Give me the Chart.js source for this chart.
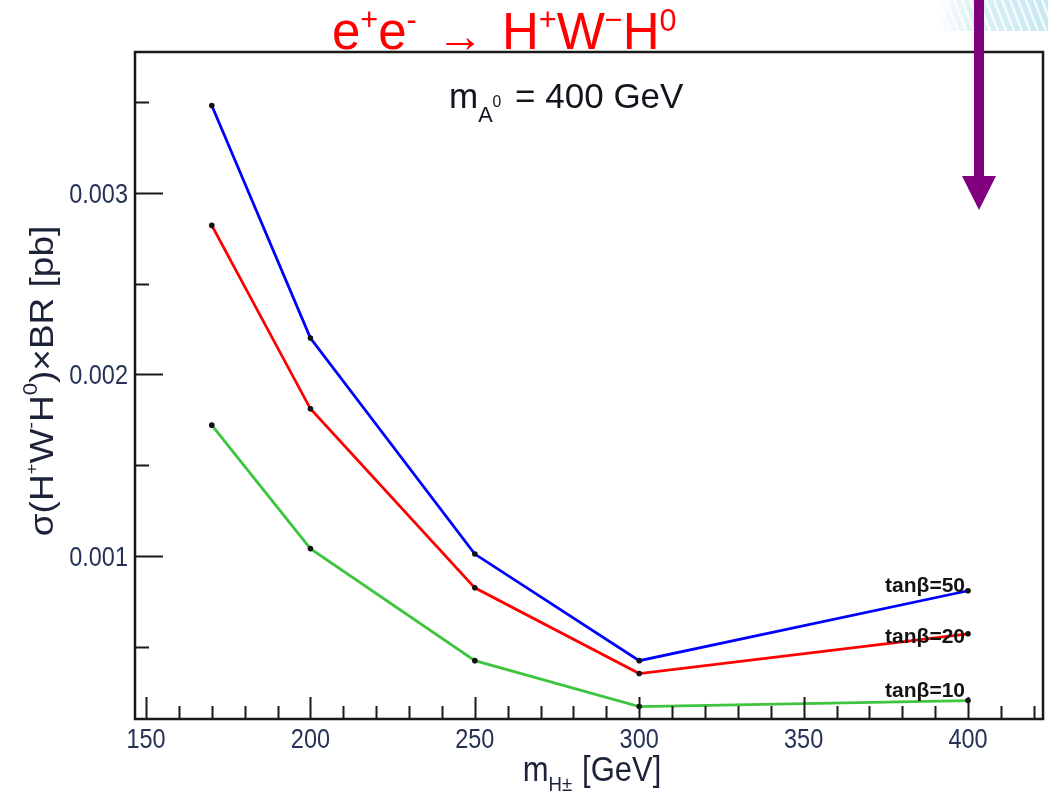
<!DOCTYPE html>
<html>
<head>
<meta charset="utf-8">
<script src="https://cdn.jsdelivr.net/npm/chart.js@4.4.1/dist/chart.umd.min.js"></script>
<style>
  html, body { margin: 0; padding: 0; background: #fff; overflow: hidden; }
  canvas { display: block; }
</style>
</head>
<body>
<canvas id="c" width="1048" height="797"></canvas>
<script>
// Charged Higgs mass points [GeV]
const massHpm = [170, 200, 250, 300, 400];
// sigma(H+ W- H0) x BR [pb] for three tan(beta) values
const sigmaTanb50 = [0.00348, 0.00220, 0.00101, 0.000423, 0.000808];
const sigmaTanb20 = [0.00282, 0.00181, 0.000824, 0.000352, 0.000571];
const sigmaTanb10 = [0.00172, 0.00104, 0.000423, 0.000170, 0.000203];
const seriesLabels = ['tanβ=50', 'tanβ=20', 'tanβ=10'];
const seriesColors = ['#0000ff', '#ff0000', '#3ec43e'];
// Axis ticks
const xTickValues = [150, 200, 250, 300, 350, 400];
const xTickLabels = ['150', '200', '250', '300', '350', '400'];
const yTickValues = [0.001, 0.002, 0.003];
const yTickLabels = ['0.001', '0.002', '0.003'];

const FONT = '"Liberation Sans", Arial, Helvetica, sans-serif';

function pts(ys) { return massHpm.map((m, i) => ({ x: m, y: ys[i] })); }

// draw a sequence of text runs (base, super- and subscripts) starting at (0,0) in current transform
function runsWidth(ctx, runs, base) {
  let w = 0;
  for (const r of runs) {
    ctx.font = (r.bold ? 'bold ' : '') + (base * (r.s || 1)) + 'px ' + FONT;
    w += (r.pre || 0) + ctx.measureText(r.t).width + (r.gap || 0);
  }
  return w;
}
function drawRuns(ctx, runs, base, align) {
  const total = runsWidth(ctx, runs, base);
  let x = align === 'center' ? -total / 2 : (align === 'right' ? -total : 0);
  for (const r of runs) {
    ctx.font = (r.bold ? 'bold ' : '') + (base * (r.s || 1)) + 'px ' + FONT;
    x += (r.pre || 0);
    ctx.fillText(r.t, x, (r.dy || 0) * base);
    x += ctx.measureText(r.t).width + (r.gap || 0);
  }
}
function placeRuns(ctx, runs, base, x, y, opt) {
  opt = opt || {};
  ctx.save();
  ctx.translate(x, y);
  if (opt.rot) ctx.rotate(opt.rot);
  ctx.scale(opt.sx || 1, opt.sy || 1);
  ctx.fillStyle = opt.color || '#000';
  ctx.textAlign = 'left';
  ctx.textBaseline = 'alphabetic';
  drawRuns(ctx, runs, base, opt.align || 'left');
  ctx.restore();
}

const decorations = {
  id: 'decorations',
  beforeDraw(chart) {
    const ctx = chart.ctx;
    ctx.save();
    ctx.fillStyle = '#fff';
    ctx.fillRect(0, 0, chart.width, chart.height);
    // pale hatched band in the upper right corner
    const g = ctx.createLinearGradient(935, 0, 1048, 0);
    g.addColorStop(0, 'rgba(205,234,242,0)');
    g.addColorStop(0.35, 'rgba(205,234,242,0.7)');
    g.addColorStop(1, 'rgba(195,230,240,0.95)');
    ctx.fillStyle = g;
    ctx.fillRect(935, 0, 113, 31);
    ctx.beginPath();
    ctx.rect(935, 0, 113, 31);
    ctx.clip();
    ctx.strokeStyle = 'rgba(255,255,255,0.8)';
    ctx.lineWidth = 2.5;
    for (let x = 930; x < 1060; x += 8) {
      ctx.beginPath();
      ctx.moveTo(x, 0);
      ctx.lineTo(x + 12, 31);
      ctx.stroke();
    }
    ctx.restore();
  },
  afterDatasetsDraw(chart) {
    const ctx = chart.ctx;
    const xs = chart.scales.x, ys = chart.scales.y;
    const a = chart.chartArea;
    ctx.save();

    // frame
    ctx.strokeStyle = '#1a1a1a';
    ctx.lineWidth = 2.5;
    ctx.strokeRect(a.left, a.top, a.right - a.left, a.bottom - a.top);

    // inward tick marks
    ctx.lineWidth = 2;
    ctx.beginPath();
    for (let v = 150; v <= xs.max; v += 10) {
      const px = Math.round(xs.getPixelForValue(v)) + 0.5;
      const len = (v % 50 === 0) ? 22 : 13;
      ctx.moveTo(px, a.bottom);
      ctx.lineTo(px, a.bottom - len);
    }
    for (let k = 1; k * 0.0005 <= ys.max; k++) {
      const v = k * 0.0005;
      if (v < ys.min) continue;
      const py = Math.round(ys.getPixelForValue(v)) + 0.5;
      const len = (k % 2 === 0) ? 28 : 14;
      ctx.moveTo(a.left, py);
      ctx.lineTo(a.left + len, py);
    }
    ctx.stroke();

    // tick labels
    ctx.fillStyle = '#263256';
    ctx.font = '23.5px ' + FONT;
    ctx.textBaseline = 'alphabetic';
    xTickValues.forEach((v, i) => {
      ctx.save();
      ctx.translate(xs.getPixelForValue(v), 748);
      ctx.scale(1, 1.2);
      ctx.textAlign = 'center';
      ctx.fillText(xTickLabels[i], 0, 0);
      ctx.restore();
    });
    yTickValues.forEach((v, i) => {
      ctx.save();
      ctx.translate(128, ys.getPixelForValue(v) + 10);
      ctx.scale(1, 1.2);
      ctx.textAlign = 'right';
      ctx.fillText(yTickLabels[i], 0, 0);
      ctx.restore();
    });

    // series labels at the right end of each curve
    const labelBase = [592, 643, 697];
    seriesLabels.forEach((t, i) => {
      placeRuns(ctx, [{ t: t, bold: true }], 21, 965, labelBase[i], { align: 'right', color: '#141414' });
    });

    // x-axis title: m_{H±} [GeV]
    placeRuns(ctx, [
      { t: 'm' },
      { t: 'H±', s: 0.6, dy: 0.3, gap: 10 },
      { t: '[GeV]' }
    ], 31, 592, 781, { align: 'center', sy: 1.12, color: '#1c2238' });

    // y-axis title: sigma(H+ W- H0) x BR [pb]
    placeRuns(ctx, [
      { t: 'σ(H' },
      { t: '+', s: 0.5, dy: -0.5 },
      { t: 'W' },
      { t: '-', s: 0.55, dy: -0.5 },
      { t: 'H' },
      { t: '0', s: 0.6, dy: -0.5 },
      { t: ')×BR [pb]' }
    ], 33, 53, 381, { rot: -Math.PI / 2, align: 'center', sx: 1.12, color: '#1c2238' });

    // subtitle: m_{A0} = 400 GeV
    placeRuns(ctx, [
      { t: 'm' },
      { t: 'A', s: 0.62, dy: 0.4 },
      { t: '0', s: 0.45, dy: -0.02, gap: 4 },
      { t: ' = 400 GeV' }
    ], 35, 449, 108, { color: '#14141e' });

    // process title
    placeRuns(ctx, [
      { t: 'e' },
      { t: '+', s: 0.6, dy: -0.38 },
      { t: 'e' },
      { t: '-', s: 0.6, dy: -0.38 },
      { t: ' ', gap: 6 },
      { t: '→', s: 0.92, dy: 0.05 },
      { t: ' ', gap: 4 },
      { t: 'H' },
      { t: '+', s: 0.6, dy: -0.38 },
      { t: 'W' },
      { t: '−', s: 0.6, dy: -0.38 },
      { t: 'H' },
      { t: '0', s: 0.6, dy: -0.36 }
    ], 51, 332, 49, { color: '#ff0000' });

    // purple arrow from the top edge
    ctx.fillStyle = '#800080';
    ctx.fillRect(974, 0, 10, 177);
    ctx.beginPath();
    ctx.moveTo(962, 176);
    ctx.lineTo(996, 176);
    ctx.lineTo(979, 210);
    ctx.closePath();
    ctx.fill();

    ctx.restore();
  }
};

function ds(label, ys, color) {
  return {
    label: label,
    data: pts(ys),
    borderColor: color,
    borderWidth: 2.8,
    pointRadius: 2.8,
    pointBackgroundColor: '#111',
    pointBorderColor: '#111',
    pointBorderWidth: 0,
    tension: 0,
    fill: false
  };
}

new Chart(document.getElementById('c'), {
  type: 'line',
  data: {
    datasets: [
      ds(seriesLabels[0], sigmaTanb50, seriesColors[0]),
      ds(seriesLabels[1], sigmaTanb20, seriesColors[1]),
      ds(seriesLabels[2], sigmaTanb10, seriesColors[2])
    ]
  },
  options: {
    responsive: false,
    animation: false,
    devicePixelRatio: 1,
    layout: { padding: { top: 52, right: 5, left: 0, bottom: 0 } },
    plugins: { legend: { display: false }, tooltip: { enabled: false }, title: { display: false } },
    scales: {
      x: {
        type: 'linear',
        min: 146.65,
        max: 422.8,
        ticks: { display: false },
        grid: { display: false },
        border: { display: false },
        afterFit(scale) { scale.height = 78; }
      },
      y: {
        type: 'linear',
        min: 0.0001017,
        max: 0.003775,
        ticks: { display: false },
        grid: { display: false },
        border: { display: false },
        afterFit(scale) { scale.width = 135; }
      }
    }
  },
  plugins: [decorations]
});
</script>
</body>
</html>
